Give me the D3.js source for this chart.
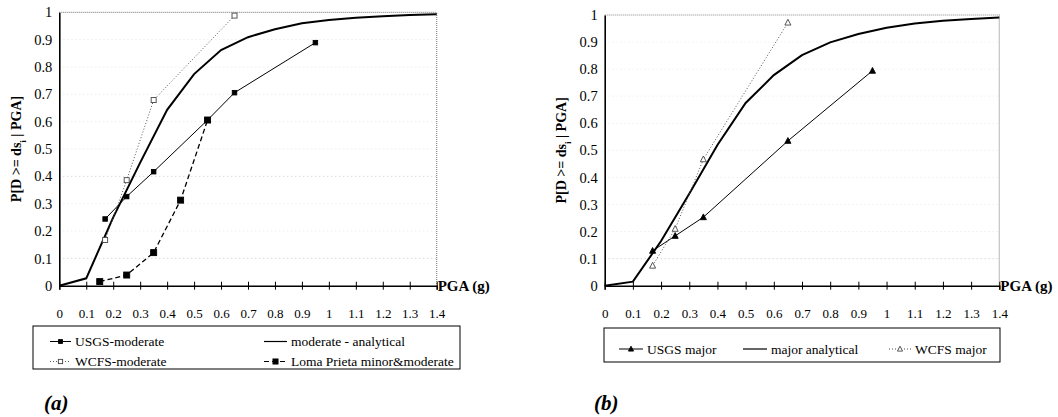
<!DOCTYPE html>
<html>
<head>
<meta charset="utf-8">
<script src="https://cdn.jsdelivr.net/npm/d3@7"></script>
<style>
  body { margin: 0; background: #fff; }
  svg text { font-family: "Liberation Serif", "Times New Roman", serif !important; }
  .grid line { stroke: #c8c8c8; stroke-dasharray: 1,3; }
</style>
</head>
<body>
<svg width="1058" height="417"></svg>
<script>
// x values (PGA in g)
const pgaTicks = [0, 0.1, 0.2, 0.3, 0.4, 0.5, 0.6, 0.7, 0.8, 0.9, 1, 1.1, 1.2, 1.3, 1.4];
const probTicks = [0, 0.1, 0.2, 0.3, 0.4, 0.5, 0.6, 0.7, 0.8, 0.9, 1];

// panel (a) - moderate
const analyticalPga = [0, 0.1, 0.2, 0.3, 0.4, 0.5, 0.6, 0.7, 0.8, 0.9, 1, 1.1, 1.2, 1.3, 1.4];
const moderateAnalytical = [0, 0.027, 0.25, 0.45, 0.643, 0.774, 0.862, 0.909, 0.938, 0.96, 0.972, 0.98, 0.986, 0.99, 0.993];
const usgsModPga = [0.17, 0.25, 0.35, 0.55, 0.65, 0.95];
const usgsModerate = [0.244, 0.326, 0.417, 0.606, 0.706, 0.889];
const wcfsModPga = [0.17, 0.25, 0.35, 0.65];
const wcfsModerate = [0.167, 0.386, 0.679, 0.988];
const lomaPga = [0.15, 0.25, 0.35, 0.45, 0.55];
const lomaPrieta = [0.015, 0.039, 0.121, 0.313, 0.606];

// panel (b) - major
const majorAnalytical = [0, 0.015, 0.165, 0.34, 0.52, 0.675, 0.778, 0.852, 0.899, 0.93, 0.953, 0.969, 0.979, 0.985, 0.991];
const usgsMajPga = [0.17, 0.25, 0.35, 0.65, 0.95];
const usgsMajor = [0.129, 0.184, 0.253, 0.535, 0.794];
const wcfsMajPga = [0.17, 0.25, 0.35, 0.65];
const wcfsMajor = [0.074, 0.21, 0.467, 0.972];

const svg = d3.select("svg");
const serif = "'Liberation Serif', 'Times New Roman', serif";

function zip(xs, ys) {
    return xs.map((x, i) => [x, ys[i]]);
}

function drawMarker(g, kind, x, y, size) {
    if (kind === "square" || kind === "opensquare") {
        g.append("rect")
            .attr("x", x - size / 2).attr("y", y - size / 2)
            .attr("width", size).attr("height", size)
            .attr("fill", kind === "square" ? "#000" : "#fff")
            .attr("stroke", kind === "square" ? "#000" : "#444")
            .attr("stroke-width", 0.9);
    } else if (kind === "triangle" || kind === "opentriangle") {
        const h = size;
        g.append("path")
            .attr("d", `M${x},${y - h * 0.6}L${x + h * 0.55},${y + h * 0.45}L${x - h * 0.55},${y + h * 0.45}Z`)
            .attr("fill", kind === "triangle" ? "#000" : "#fff")
            .attr("stroke", kind === "triangle" ? "#000" : "#444")
            .attr("stroke-width", 0.9);
    }
}

function drawPanel(cfg) {
    const x = d3.scaleLinear().domain([0, 1.4]).range([cfg.left, cfg.right]);
    const y = d3.scaleLinear().domain([0, 1]).range([cfg.bottom, cfg.top]);
    const g = svg.append("g").attr("font-family", serif);

    // faint grid
    g.append("g").attr("class", "grid")
        .selectAll("line")
        .data(probTicks.filter(d => d > 0 && d < 1))
        .join("line")
        .attr("x1", x(0)).attr("x2", x(1.4))
        .attr("y1", d => y(d)).attr("y2", d => y(d))
        .attr("stroke-opacity", d => (cfg.strongGrid.includes(d) ? 1 : 0.45));

    // top and right frame (dotted grey)
    g.append("path")
        .attr("d", `M${x(0)},${y(1)}H${x(1.4)}V${y(0)}`)
        .attr("fill", "none")
        .attr("stroke", "#888")
        .attr("stroke-width", 1.2)
        .attr("stroke-dasharray", "1,1");

    // x axis
    const xAxis = g.append("g")
        .attr("transform", `translate(0,${y(0)})`)
        .call(d3.axisBottom(x).tickValues(pgaTicks).tickSize(4).tickPadding(19)
            .tickFormat(d => d3.format("")(+d.toFixed(1))));
    xAxis.attr("font-family", serif);
    xAxis.select(".domain").attr("stroke-width", 1.4);
    xAxis.selectAll(".tick line").attr("y1", -4).attr("y2", 4);
    xAxis.selectAll(".tick text")
        .attr("font-size", 13)
        .attr("fill", "#000");

    // y axis
    const yAxis = g.append("g")
        .attr("transform", `translate(${x(0)},0)`)
        .call(d3.axisLeft(y).tickValues(probTicks).tickSize(0).tickPadding(7)
            .tickFormat(d => d3.format("")(+d.toFixed(1))));
    yAxis.attr("font-family", serif);
    yAxis.select(".domain").attr("stroke-width", 1.6);
    yAxis.selectAll(".tick text")
        .attr("font-size", 14.5)
        .attr("fill", "#000");

    // y title
    const yt = g.append("text")
        .attr("transform", `translate(${cfg.titleX},${(y(0) + y(1)) / 2}) rotate(-90)`)
        .attr("text-anchor", "middle")
        .attr("font-size", 14)
        .attr("font-weight", "bold");
    yt.append("tspan").text("P[D >= ds");
    yt.append("tspan").attr("baseline-shift", "sub").attr("font-size", 9).text("i");
    yt.append("tspan").text(" | PGA]");

    // x title
    g.append("text")
        .attr("x", x(1.4) + 1).attr("y", y(0) + 5)
        .attr("font-size", 15)
        .attr("font-weight", "bold")
        .text("PGA (g)");

    const line = d3.line().x(d => x(d[0])).y(d => y(d[1]));

    cfg.series.forEach(s => {
        const pts = zip(s.xs, s.ys);
        g.append("path")
            .datum(pts)
            .attr("d", line)
            .attr("fill", "none")
            .attr("stroke", s.color || "#000")
            .attr("stroke-width", s.width)
            .attr("stroke-dasharray", s.dash || null);
        if (s.marker) {
            pts.forEach(p => drawMarker(g, s.marker, x(p[0]), y(p[1]), s.size));
        }
    });

    // legend
    const lg = g.append("g");
    lg.append("rect")
        .attr("x", cfg.legend.x).attr("y", cfg.legend.y)
        .attr("width", cfg.legend.w).attr("height", cfg.legend.h)
        .attr("fill", "#fff").attr("stroke", "#000").attr("stroke-width", 1);
    cfg.legend.items.forEach(it => {
        const s = cfg.series[it.series];
        lg.append("line")
            .attr("x1", it.x).attr("x2", it.x + it.len)
            .attr("y1", it.y).attr("y2", it.y)
            .attr("stroke", s.color || "#000")
            .attr("stroke-width", Math.min(s.width, 1.2))
            .attr("stroke-dasharray", s.dash || null);
        if (s.marker) drawMarker(lg, s.marker, it.x + it.len / 2, it.y, s.size * 0.85);
        lg.append("text")
            .attr("x", it.x + it.len + 4).attr("y", it.y + 4.5)
            .attr("font-size", 13.5)
            .text(it.label);
    });

    // panel label
    g.append("text")
        .attr("x", cfg.labelX).attr("y", 410)
        .attr("font-size", 21)
        .attr("font-weight", "bold")
        .attr("font-style", "italic")
        .text(cfg.label);
}

drawPanel({
    left: 59.3, right: 436.7, top: 12.3, bottom: 285.7, titleX: 21,
    strongGrid: [0.4, 0.1],
    label: "(a)", labelX: 44,
    series: [
        { xs: usgsModPga, ys: usgsModerate, width: 1, marker: "square", size: 4.5 },
        { xs: analyticalPga, ys: moderateAnalytical, width: 2 },
        { xs: wcfsModPga, ys: wcfsModerate, width: 1, dash: "1,2", color: "#555", marker: "opensquare", size: 5 },
        { xs: lomaPga, ys: lomaPrieta, width: 1.3, dash: "5,3", marker: "square", size: 6 }
    ],
    legend: {
        x: 33, y: 326, w: 427, h: 43,
        items: [
            { series: 0, x: 50, y: 341.5, len: 21, label: "USGS-moderate" },
            { series: 2, x: 50, y: 361.5, len: 21, label: "WCFS-moderate" },
            { series: 1, x: 264, y: 341.5, len: 23, label: "moderate - analytical" },
            { series: 3, x: 264, y: 361.5, len: 23, label: "Loma Prieta minor&moderate" }
        ]
    }
});

drawPanel({
    left: 604.7, right: 999.3, top: 15, bottom: 285.7, titleX: 566,
    strongGrid: [0.1],
    label: "(b)", labelX: 594,
    series: [
        { xs: usgsMajPga, ys: usgsMajor, width: 1, marker: "triangle", size: 5.5 },
        { xs: analyticalPga, ys: majorAnalytical, width: 2 },
        { xs: wcfsMajPga, ys: wcfsMajor, width: 1, dash: "1,2", color: "#555", marker: "opentriangle", size: 5.5 }
    ],
    legend: {
        x: 604, y: 328, w: 396, h: 34,
        items: [
            { series: 0, x: 619, y: 349, len: 24, label: "USGS major" },
            { series: 1, x: 743, y: 349, len: 24, label: "major analytical" },
            { series: 2, x: 889, y: 349, len: 22, label: "WCFS major" }
        ]
    }
});
</script>
</body>
</html>
